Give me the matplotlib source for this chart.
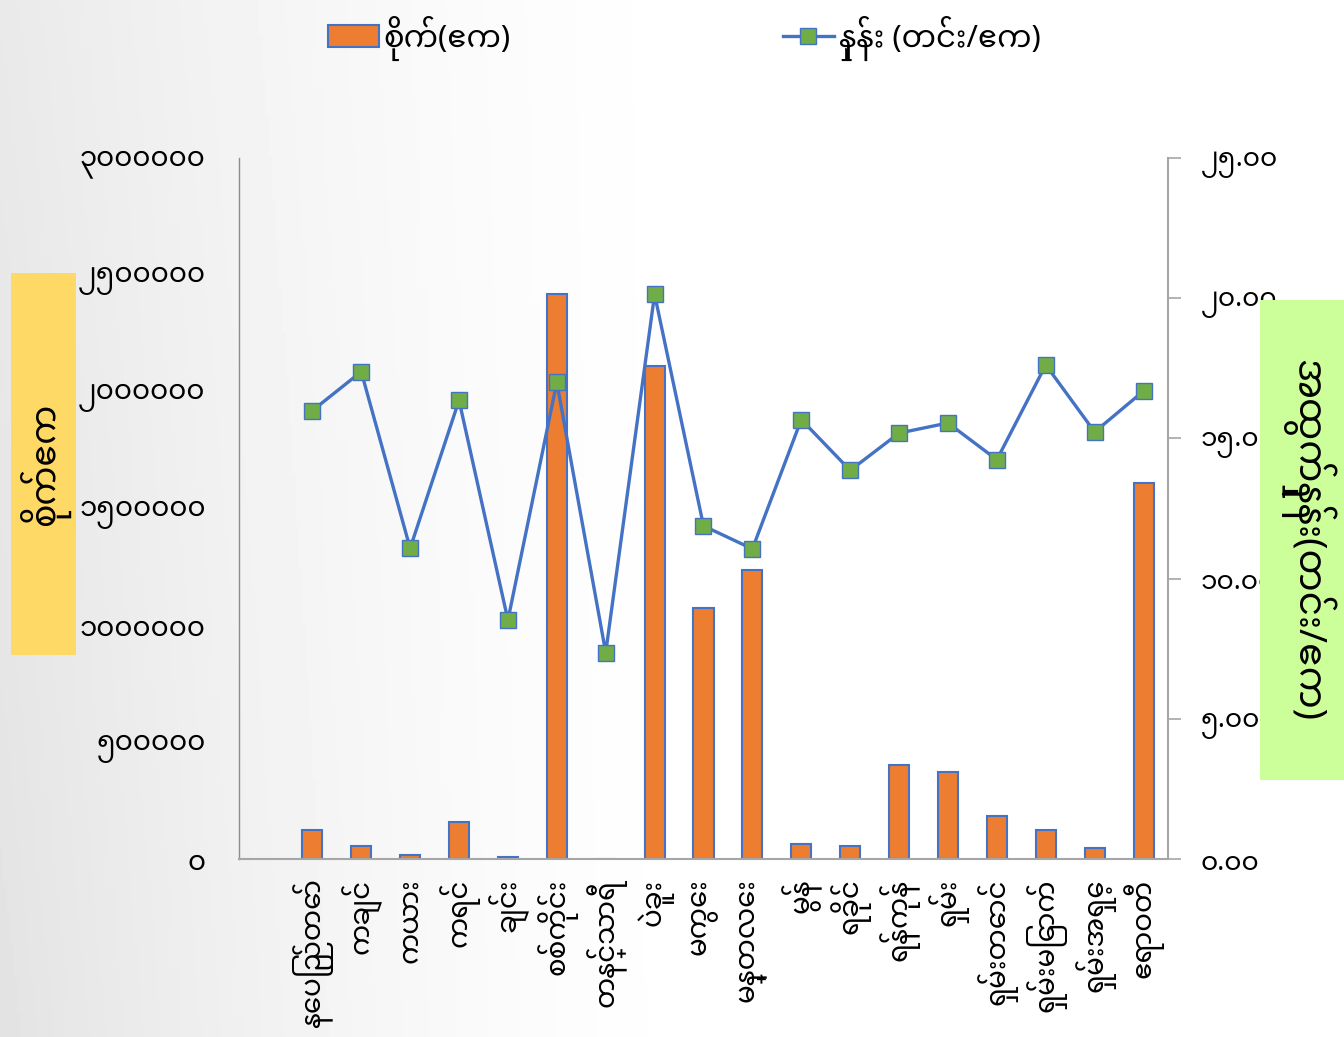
import matplotlib
matplotlib.use("Agg")
import matplotlib.pyplot as plt
import numpy as np
from matplotlib.patches import Rectangle, Patch
from matplotlib.lines import Line2D
from matplotlib.ticker import FuncFormatter

# --- data ---
regions = ['နေပြည်တော်', 'ကချင်', 'ကယား', 'ကရင်', 'ချင်း', 'စစ်ကိုင်း',
           'တနင်္သာရီ', 'ပဲခူး', 'မကွေး', 'မန္တလေး', 'မွန်', 'ရခိုင်',
           'ရန်ကုန်', 'ရှမ်း', 'ရှမ်းတောင်', 'ရှမ်းမြောက်', 'ရှမ်းအရှေ့', 'ဧရာဝတီ']
sown_acres = [124000, 56000, 17000, 158000, 9000, 2418000,
              2000, 2110000, 1074000, 1237000, 64000, 56000,
              402000, 372000, 184000, 124000, 47000, 1609000]
yield_rate = [15.99, 17.38, 11.08, 16.36, 8.52, 17.00,
              7.36, 20.14, 11.88, 11.06, 15.67, 13.86,
              15.19, 15.55, 14.24, 17.62, 15.23, 16.69]
left_ticks = [0, 500000, 1000000, 1500000, 2000000, 2500000, 3000000]
right_ticks = [0, 5, 10, 15, 20, 25]

bar_label = 'စိုက်(ဧက)'
line_label = 'နှုန်း (တင်း/ဧက)'
left_title = 'စိုက်ဧက'
right_title = 'အထွက်နှုန်း(တင်း/ဧက)'

plt.rcParams['font.family'] = ['Noto Sans Myanmar', 'Noto Sans Myanmar UI',
                               'Padauk', 'DejaVu Sans']

MM_DIGITS = str.maketrans('0123456789', '၀၁၂၃၄၅၆၇၈၉')

BAR_COLOR = '#ED7D31'
BLUE = '#4472C4'
GREEN = '#70AD47'
AXIS_GRAY = '#A6A6A6'

W, H = 1344, 1037
fig = plt.figure(figsize=(W / 100, H / 100), dpi=100)

# background: soft grey on the left fading to white
bg = fig.add_axes([0, 0, 1, 1], zorder=-10)
xx, yy = np.meshgrid(np.linspace(0, 1, 400), np.linspace(0, 1, 300))
t = np.clip(1 - xx / 0.55, 0, 1) ** 1.6
shade = 1 - (0.085 + 0.025 * yy) * t
bg.imshow(shade, cmap='gray', vmin=0, vmax=1, aspect='auto',
          extent=[0, 1, 0, 1], origin='upper')
bg.axis('off')

ax = fig.add_axes([239 / W, 1 - 859 / H, (1168 - 239) / W, (859 - 158) / H])
ax.set_facecolor('none')
x = np.arange(1, len(regions) + 1)

ax.bar(x, sown_acres, width=0.41, color=BAR_COLOR, edgecolor=BLUE,
       linewidth=1.5, zorder=2)
ax.set_xlim(-0.5, len(regions) + 0.5)
ax.set_ylim(0, 3000000)
ax.set_yticks(left_ticks)
ax.yaxis.set_major_formatter(FuncFormatter(lambda v, p: str(int(v)).translate(MM_DIGITS)))
ax.tick_params(axis='y', length=0, pad=24, labelsize=20)
ax.set_xticks(x)
ax.set_xticklabels(regions, rotation=90, va='top', ha='center', fontsize=20)
ax.tick_params(axis='x', length=0, pad=14)
for s in ['top', 'right']:
    ax.spines[s].set_visible(False)
ax.spines['left'].set_color('#8C8C8C')
ax.spines['left'].set_linewidth(1.0)
ax.spines['bottom'].set_color(AXIS_GRAY)
ax.spines['bottom'].set_linewidth(1.5)

ax2 = ax.twinx()
ax2.plot(x, yield_rate, color=BLUE, linewidth=2.4, marker='s', markersize=11.5,
         markerfacecolor=GREEN, markeredgecolor=BLUE, markeredgewidth=1.0, zorder=3)
ax2.set_ylim(0, 25)
ax2.set_yticks(right_ticks)
ax2.yaxis.set_major_formatter(FuncFormatter(lambda v, p: f'{v:.2f}'.translate(MM_DIGITS)))
ax2.tick_params(axis='y', length=9.4, width=1.2, color=AXIS_GRAY, pad=14, labelsize=19)
for s in ['top', 'left', 'bottom']:
    ax2.spines[s].set_visible(False)
ax2.spines['right'].set_color(AXIS_GRAY)
ax2.spines['right'].set_linewidth(1.5)

# legend
handles = [Patch(facecolor=BAR_COLOR, edgecolor=BLUE, linewidth=1.5),
           Line2D([], [], color=BLUE, linewidth=2.4, marker='s', markersize=11.5,
                  markerfacecolor=GREEN, markeredgecolor=BLUE)]
fig.legend(handles, [bar_label, line_label], loc='center', ncol=2,
           bbox_to_anchor=(0.509, 1 - 38 / H), frameon=False, fontsize=22,
           handlelength=1.67, handleheight=0.75, handletextpad=0.16, columnspacing=8.9)

# axis title boxes
fig.patches.append(Rectangle((11 / W, 1 - 655 / H), 65 / W, 382 / H,
                             transform=fig.transFigure, facecolor='#FFD966',
                             edgecolor='none', zorder=1))
fig.text(44 / W, 1 - 464 / H, left_title, rotation=90, ha='center', va='center',
         fontsize=25)
fig.patches.append(Rectangle((1260 / W, 1 - 780 / H), 84 / W, 480 / H,
                             transform=fig.transFigure, facecolor='#CCFF99',
                             edgecolor='none', zorder=1))
fig.text(1307 / W, 1 - 540 / H, right_title, rotation=-90, ha='center', va='center',
         fontsize=27)

fig.savefig('out.png', dpi=100)
